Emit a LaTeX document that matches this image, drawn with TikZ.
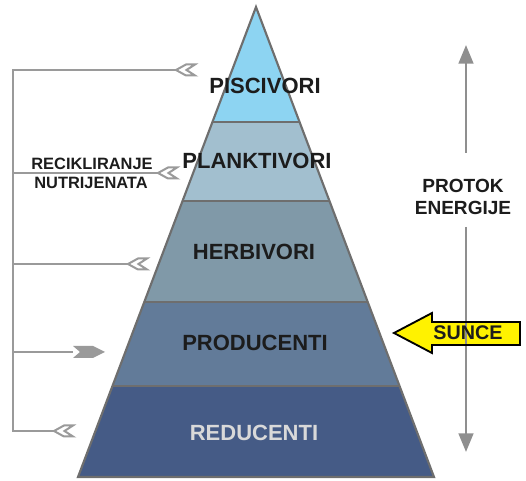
\documentclass[tikz,border=0pt]{standalone}
\usepackage{fontspec}
\setmainfont{Liberation Sans}
\usetikzlibrary{arrows.meta}

\definecolor{piscC}{HTML}{8DD4F2}
\definecolor{plankC}{HTML}{A2BFCF}
\definecolor{herbC}{HTML}{8099A8}
\definecolor{prodC}{HTML}{627B99}
\definecolor{reduC}{HTML}{455B86}
\definecolor{edgeC}{HTML}{6E6E6E}
\definecolor{loopC}{HTML}{9A9A9A}
\definecolor{flowC}{HTML}{8F8F8F}
\definecolor{sunC}{HTML}{FFF200}
\definecolor{inkC}{HTML}{1C1C1C}
\definecolor{paleC}{HTML}{D9D9D9}

\tikzset{
  level/.style={font=\bfseries\fontsize{16.5}{18}\selectfont, text=inkC, inner sep=0pt},
  sidetext/.style={font=\bfseries\fontsize{12.3}{14}\selectfont, text=inkC, inner sep=0pt},
  flowtext/.style={font=\bfseries\fontsize{14.3}{17}\selectfont, text=inkC, align=center, inner sep=0pt},
  loopline/.style={draw=loopC, line width=1.6pt},
  chevron/.pic={
    \draw[draw=loopC, fill=white, line width=1.5pt, line join=miter]
      (0,0) -- (10,-5.5) -- (19,-5.5) -- (10.5,0) -- (19,5.5) -- (10,5.5) -- cycle;
  },
  solidtip/.pic={
    \fill[loopC] (0,-6) -- (20,-6) -- (32,0) -- (20,6) -- (0,6) -- (7,0) -- cycle;
  },
  flowarrow/.style={draw=flowC, line width=1.9pt,
    -{Triangle[length=14pt, width=11pt]}},
}

\begin{document}
\begin{tikzpicture}[x=0.75pt, y=-0.75pt]
  \useasboundingbox (0,0) rectangle (526,481);

  % pyramid corners
  \coordinate (apex) at (256,7);
  \coordinate (bl) at (78,477);
  \coordinate (br) at (434,477);

  % coloured bands of the pyramid
  \begin{scope}
    \clip (apex) -- (br) -- (bl) -- cycle;
    \fill[piscC]  (0,0)   rectangle (526,122);
    \fill[plankC] (0,122) rectangle (526,201);
    \fill[herbC]  (0,201) rectangle (526,302);
    \fill[prodC]  (0,302) rectangle (526,386);
    \fill[reduC]  (0,386) rectangle (526,481);
    \foreach \yy in {122,201,302,386}
      \draw[edgeC, line width=1.5pt] (0,\yy) -- (526,\yy);
  \end{scope}
  \draw[edgeC, line width=1.6pt, line join=miter] (apex) -- (br) -- (bl) -- cycle;

  % level labels
  \node[level] (pisc)  at (265,86)  {PISCIVORI};
  \node[level] (plank) at (257,161) {PLANKTIVORI};
  \node[level] (herb)  at (254,252) {HERBIVORI};
  \node[level] (prod)  at (255,343) {PRODUCENTI};
  \node[level, text=paleC] (redu) at (254,433) {REDUCENTI};

  % nutrient recycling loop
  \coordinate (lt) at (13,70);
  \coordinate (lp) at (13,173);
  \coordinate (lh) at (13,264);
  \coordinate (lr) at (13,352);
  \coordinate (lb) at (13,431);
  \coordinate (cp) at (176,70);
  \coordinate (cq) at (158,173);
  \coordinate (ch) at (128,264);
  \coordinate (cr) at (73,352);
  \coordinate (cb) at (54,431);

  \draw[loopline] (cp) -- (lt) -- (lb) -- (cb);
  \draw[loopline] (lp) -- (cq);
  \draw[loopline] (lh) -- (ch);
  \draw[loopline] (lr) -- (cr);

  \pic at (cp) {chevron};
  \pic at (cq) {chevron};
  \pic at (ch) {chevron};
  \pic at (cb) {chevron};
  \pic at (cr) {solidtip};

  \node[sidetext] (recik) at (92,164) {RECIKLIRANJE};
  \node[sidetext] (nutri) at (91,183) {NUTRIJENATA};

  % energy flow
  \node[flowtext] (flow) at (463,197) {PROTOK\\[0pt]ENERGIJE};
  \coordinate (fup1) at (466,153);
  \coordinate (fup2) at (466,45);
  \coordinate (fdn1) at (466,227);
  \coordinate (fdn2) at (466,452);

  % sunlight arrow
  \fill[sunC] (520,322) -- (432,322) -- (432,313) -- (394,333) -- (432,353)
    -- (432,345) -- (520,345) -- cycle;
  \draw[flowarrow] (fup1) -- (fup2);
  \draw[flowarrow] (fdn1) -- (fdn2);
  \draw[black, line width=1.4pt, line join=miter]
    (520,322) -- (432,322) -- (432,313) -- (394,333) -- (432,353)
    -- (432,345) -- (520,345) -- cycle;
  \node[font=\bfseries\fontsize{14.8}{16}\selectfont, text=inkC, inner sep=0pt]
    (sun) at (468,333) {SUNCE};
\end{tikzpicture}
\end{document}
